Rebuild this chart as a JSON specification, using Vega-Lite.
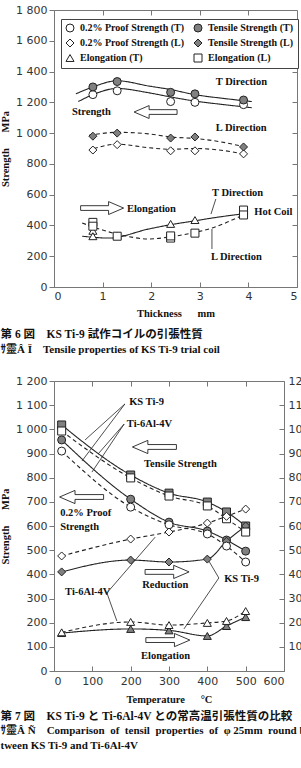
{
  "$schema": "https://vega.github.io/schema/vega-lite/v6.json",
  "padding": {"left": 0, "top": 3, "right": 0, "bottom": 0},
  "background": "white",
  "spacing": 18,
  "config": {
    "view": {"stroke": "#777", "strokeWidth": 1},
    "axis": {"domainColor": "#777", "tickColor": "#777", "labelFont": "DejaVu Sans", "labelFontSize": 11, "labelColor": "#333", "titleFont": "Liberation Serif", "titleFontWeight": "bold", "titleFontSize": 10.5, "titleColor": "#111", "grid": false, "tickSize": 5}
  },
  "datasets": {
    "pts1": [
      {"x": 0.8, "y": 1250, "series": "0.2% Proof Strength (T)"},
      {"x": 1.3, "y": 1275, "series": "0.2% Proof Strength (T)"},
      {"x": 2.4, "y": 1205, "series": "0.2% Proof Strength (T)"},
      {"x": 2.9, "y": 1200, "series": "0.2% Proof Strength (T)"},
      {"x": 3.9, "y": 1185, "series": "0.2% Proof Strength (T)"},
      {"x": 0.8, "y": 1300, "series": "Tensile Strength (T)"},
      {"x": 1.3, "y": 1335, "series": "Tensile Strength (T)"},
      {"x": 2.4, "y": 1265, "series": "Tensile Strength (T)"},
      {"x": 2.9, "y": 1255, "series": "Tensile Strength (T)"},
      {"x": 3.9, "y": 1215, "series": "Tensile Strength (T)"},
      {"x": 0.8, "y": 890, "series": "0.2% Proof Strength (L)"},
      {"x": 1.3, "y": 925, "series": "0.2% Proof Strength (L)"},
      {"x": 2.4, "y": 885, "series": "0.2% Proof Strength (L)"},
      {"x": 2.9, "y": 885, "series": "0.2% Proof Strength (L)"},
      {"x": 3.9, "y": 865, "series": "0.2% Proof Strength (L)"},
      {"x": 0.8, "y": 980, "series": "Tensile Strength (L)"},
      {"x": 1.3, "y": 1000, "series": "Tensile Strength (L)"},
      {"x": 2.4, "y": 968, "series": "Tensile Strength (L)"},
      {"x": 2.9, "y": 975, "series": "Tensile Strength (L)"},
      {"x": 3.9, "y": 910, "series": "Tensile Strength (L)"},
      {"x": 0.8, "y": 365, "series": "Elongation (T)"},
      {"x": 0.8, "y": 330, "series": "Elongation (T)"},
      {"x": 1.3, "y": 335, "series": "Elongation (T)"},
      {"x": 2.4, "y": 410, "series": "Elongation (T)"},
      {"x": 2.9, "y": 435, "series": "Elongation (T)"},
      {"x": 3.9, "y": 490, "series": "Elongation (T)"},
      {"x": 0.8, "y": 420, "series": "Elongation (L)"},
      {"x": 0.8, "y": 395, "series": "Elongation (L)"},
      {"x": 1.3, "y": 330, "series": "Elongation (L)"},
      {"x": 2.4, "y": 318, "series": "Elongation (L)"},
      {"x": 2.4, "y": 332, "series": "Elongation (L)"},
      {"x": 2.9, "y": 350, "series": "Elongation (L)"},
      {"x": 3.9, "y": 500, "series": "Elongation (L)"},
      {"x": 3.9, "y": 468, "series": "Elongation (L)"}
    ],
    "cur1": [
      {"x": 0.45, "y": 1255, "curve": "TS T", "dir": "T"},
      {"x": 0.8, "y": 1300, "curve": "TS T", "dir": "T"},
      {"x": 1.3, "y": 1340, "curve": "TS T", "dir": "T"},
      {"x": 1.95, "y": 1306, "curve": "TS T", "dir": "T"},
      {"x": 2.4, "y": 1283, "curve": "TS T", "dir": "T"},
      {"x": 2.9, "y": 1250, "curve": "TS T", "dir": "T"},
      {"x": 3.5, "y": 1225, "curve": "TS T", "dir": "T"},
      {"x": 4.07, "y": 1205, "curve": "TS T", "dir": "T"},
      {"x": 0.5, "y": 1205, "curve": "PS T", "dir": "T"},
      {"x": 0.8, "y": 1250, "curve": "PS T", "dir": "T"},
      {"x": 1.3, "y": 1290, "curve": "PS T", "dir": "T"},
      {"x": 1.95, "y": 1262, "curve": "PS T", "dir": "T"},
      {"x": 2.4, "y": 1235, "curve": "PS T", "dir": "T"},
      {"x": 2.9, "y": 1208, "curve": "PS T", "dir": "T"},
      {"x": 3.5, "y": 1185, "curve": "PS T", "dir": "T"},
      {"x": 4.07, "y": 1165, "curve": "PS T", "dir": "T"},
      {"x": 0.72, "y": 985, "curve": "TS L", "dir": "L"},
      {"x": 1.3, "y": 1005, "curve": "TS L", "dir": "L"},
      {"x": 1.95, "y": 995, "curve": "TS L", "dir": "L"},
      {"x": 2.4, "y": 975, "curve": "TS L", "dir": "L"},
      {"x": 2.9, "y": 965, "curve": "TS L", "dir": "L"},
      {"x": 3.4, "y": 945, "curve": "TS L", "dir": "L"},
      {"x": 3.9, "y": 912, "curve": "TS L", "dir": "L"},
      {"x": 0.82, "y": 900, "curve": "PS L", "dir": "L"},
      {"x": 1.3, "y": 928, "curve": "PS L", "dir": "L"},
      {"x": 1.95, "y": 905, "curve": "PS L", "dir": "L"},
      {"x": 2.4, "y": 895, "curve": "PS L", "dir": "L"},
      {"x": 2.9, "y": 900, "curve": "PS L", "dir": "L"},
      {"x": 3.4, "y": 890, "curve": "PS L", "dir": "L"},
      {"x": 3.9, "y": 865, "curve": "PS L", "dir": "L"},
      {"x": 0.58, "y": 330, "curve": "EL T", "dir": "T"},
      {"x": 1.13, "y": 318, "curve": "EL T", "dir": "T"},
      {"x": 1.95, "y": 377, "curve": "EL T", "dir": "T"},
      {"x": 2.4, "y": 405, "curve": "EL T", "dir": "T"},
      {"x": 2.9, "y": 430, "curve": "EL T", "dir": "T"},
      {"x": 3.25, "y": 448, "curve": "EL T", "dir": "T"},
      {"x": 3.95, "y": 478, "curve": "EL T", "dir": "T"},
      {"x": 0.58, "y": 416, "curve": "EL L", "dir": "L"},
      {"x": 1.0, "y": 370, "curve": "EL L", "dir": "L"},
      {"x": 1.48, "y": 331, "curve": "EL L", "dir": "L"},
      {"x": 1.95, "y": 312, "curve": "EL L", "dir": "L"},
      {"x": 2.37, "y": 325, "curve": "EL L", "dir": "L"},
      {"x": 2.9, "y": 355, "curve": "EL L", "dir": "L"},
      {"x": 3.25, "y": 383, "curve": "EL L", "dir": "L"},
      {"x": 3.95, "y": 478, "curve": "EL L", "dir": "L"}
    ],
    "txt1": [
      {"x": 3.33, "y": 1332, "label": "T Direction"},
      {"x": 0.37, "y": 1137, "label": "Strength"},
      {"x": 3.33, "y": 1033, "label": "L Direction"},
      {"x": 1.5, "y": 507, "label": "Elongation"},
      {"x": 3.25, "y": 611, "label": "T Direction"},
      {"x": 3.23, "y": 195, "label": "L Direction"},
      {"x": 4.12, "y": 487, "label": "Hot Coil"}
    ],
    "arr1": [
      {"x": 2.09, "y": 1137, "dir": "left"},
      {"x": 0.99, "y": 513, "dir": "right"}
    ],
    "rul1": [
      {"x": 3.33, "y": 572, "x2": 3.23, "y2": 474},
      {"x": 3.25, "y": 247, "x2": 3.25, "y2": 377}
    ],
    "pts2": [
      {"t": 20, "v": 1018, "prop": "tensile", "alloy": "KS Ti-9"},
      {"t": 200, "v": 811, "prop": "tensile", "alloy": "KS Ti-9"},
      {"t": 300, "v": 736, "prop": "tensile", "alloy": "KS Ti-9"},
      {"t": 400, "v": 699, "prop": "tensile", "alloy": "KS Ti-9"},
      {"t": 450, "v": 658, "prop": "tensile", "alloy": "KS Ti-9"},
      {"t": 500, "v": 600, "prop": "tensile", "alloy": "KS Ti-9"},
      {"t": 20, "v": 956, "prop": "proof", "alloy": "KS Ti-9"},
      {"t": 200, "v": 711, "prop": "proof", "alloy": "KS Ti-9"},
      {"t": 300, "v": 616, "prop": "proof", "alloy": "KS Ti-9"},
      {"t": 400, "v": 579, "prop": "proof", "alloy": "KS Ti-9"},
      {"t": 450, "v": 542, "prop": "proof", "alloy": "KS Ti-9"},
      {"t": 500, "v": 496, "prop": "proof", "alloy": "KS Ti-9"},
      {"t": 20, "v": 410, "prop": "reduction", "alloy": "KS Ti-9"},
      {"t": 200, "v": 459, "prop": "reduction", "alloy": "KS Ti-9"},
      {"t": 300, "v": 451, "prop": "reduction", "alloy": "KS Ti-9"},
      {"t": 400, "v": 463, "prop": "reduction", "alloy": "KS Ti-9"},
      {"t": 450, "v": 537, "prop": "reduction", "alloy": "KS Ti-9"},
      {"t": 500, "v": 600, "prop": "reduction", "alloy": "KS Ti-9"},
      {"t": 20, "v": 157, "prop": "elong", "alloy": "KS Ti-9"},
      {"t": 200, "v": 174, "prop": "elong", "alloy": "KS Ti-9"},
      {"t": 300, "v": 168, "prop": "elong", "alloy": "KS Ti-9"},
      {"t": 400, "v": 145, "prop": "elong", "alloy": "KS Ti-9"},
      {"t": 450, "v": 186, "prop": "elong", "alloy": "KS Ti-9"},
      {"t": 500, "v": 223, "prop": "elong", "alloy": "KS Ti-9"},
      {"t": 20, "v": 993, "prop": "tensile", "alloy": "Ti-6Al-4V"},
      {"t": 200, "v": 799, "prop": "tensile", "alloy": "Ti-6Al-4V"},
      {"t": 300, "v": 724, "prop": "tensile", "alloy": "Ti-6Al-4V"},
      {"t": 400, "v": 683, "prop": "tensile", "alloy": "Ti-6Al-4V"},
      {"t": 450, "v": 630, "prop": "tensile", "alloy": "Ti-6Al-4V"},
      {"t": 500, "v": 575, "prop": "tensile", "alloy": "Ti-6Al-4V"},
      {"t": 20, "v": 910, "prop": "proof", "alloy": "Ti-6Al-4V"},
      {"t": 200, "v": 678, "prop": "proof", "alloy": "Ti-6Al-4V"},
      {"t": 300, "v": 605, "prop": "proof", "alloy": "Ti-6Al-4V"},
      {"t": 400, "v": 567, "prop": "proof", "alloy": "Ti-6Al-4V"},
      {"t": 450, "v": 517, "prop": "proof", "alloy": "Ti-6Al-4V"},
      {"t": 500, "v": 451, "prop": "proof", "alloy": "Ti-6Al-4V"},
      {"t": 20, "v": 476, "prop": "reduction", "alloy": "Ti-6Al-4V"},
      {"t": 200, "v": 546, "prop": "reduction", "alloy": "Ti-6Al-4V"},
      {"t": 300, "v": 575, "prop": "reduction", "alloy": "Ti-6Al-4V"},
      {"t": 400, "v": 612, "prop": "reduction", "alloy": "Ti-6Al-4V"},
      {"t": 450, "v": 640, "prop": "reduction", "alloy": "Ti-6Al-4V"},
      {"t": 500, "v": 670, "prop": "reduction", "alloy": "Ti-6Al-4V"},
      {"t": 20, "v": 160, "prop": "elong", "alloy": "Ti-6Al-4V"},
      {"t": 200, "v": 203, "prop": "elong", "alloy": "Ti-6Al-4V"},
      {"t": 300, "v": 190, "prop": "elong", "alloy": "Ti-6Al-4V"},
      {"t": 400, "v": 199, "prop": "elong", "alloy": "Ti-6Al-4V"},
      {"t": 450, "v": 207, "prop": "elong", "alloy": "Ti-6Al-4V"},
      {"t": 500, "v": 248, "prop": "elong", "alloy": "Ti-6Al-4V"}
    ],
    "txt2": [
      {"t": 196, "v": 1113, "label": "KS Ti-9"},
      {"t": 190, "v": 1022, "label": "Ti-6Al-4V"},
      {"t": 235, "v": 856, "label": "Tensile Strength"},
      {"t": 16, "v": 654, "label": "0.2% Proof"},
      {"t": 16, "v": 596, "label": "Strength"},
      {"t": 230, "v": 356, "label": "Reduction"},
      {"t": 444, "v": 381, "label": "KS Ti-9"},
      {"t": 29, "v": 327, "label": "Ti-6Al-4V"},
      {"t": 227, "v": 62, "label": "Elongation"}
    ],
    "arr2": [
      {"t": 262, "v": 927, "dir": "left"},
      {"t": 72, "v": 720, "dir": "left"},
      {"t": 295, "v": 410, "dir": "right"},
      {"t": 297, "v": 128, "dir": "right"}
    ],
    "rul2": [
      {"t": 185, "v": 1105, "t2": 81, "v2": 956},
      {"t": 185, "v": 1105, "t2": 73, "v2": 869},
      {"t": 183, "v": 1022, "t2": 115, "v2": 898},
      {"t": 183, "v": 1022, "t2": 99, "v2": 823},
      {"t": 138, "v": 323, "t2": 264, "v2": 554},
      {"t": 138, "v": 323, "t2": 164, "v2": 207},
      {"t": 430, "v": 385, "t2": 404, "v2": 455},
      {"t": 430, "v": 385, "t2": 339, "v2": 174}
    ]
  },
  "resolve": {"scale": {"shape": "independent", "fill": "independent", "stroke": "independent", "strokeDash": "independent"}},
  "vconcat": [
    {
      "width": 243,
      "height": 277,
      "title": {
        "text": "第 6 図\u00a0\u00a0\u00a0\u00a0KS Ti-9 試作コイルの引張性質",
        "subtitle": "ｻ靈Â Ï\u00a0\u00a0\u00a0\u00a0Tensile properties of KS Ti-9 trial coil",
        "orient": "bottom", "anchor": "start", "frame": "bounds", "offset": 10,
        "font": "Liberation Serif, Noto Sans CJK JP", "fontSize": 11.5, "fontWeight": "bold", "color": "#111",
        "subtitleFont": "Liberation Serif, Noto Sans CJK JP", "subtitleFontSize": 11, "subtitleFontWeight": "bold", "subtitleColor": "#111", "subtitlePadding": 4
      },
      "resolve": {"axis": {"x": "independent", "y": "independent"}},
      "layer": [
        {
          "data": {"name": "cur1"},
          "mark": {"type": "line", "interpolate": "monotone", "color": "#222", "strokeWidth": 1.1},
          "encoding": {
            "x": {"field": "x", "type": "quantitative", "scale": {"domain": [0, 5], "nice": false},
              "axis": {"orient": "bottom", "values": [0, 1, 2, 3, 4, 5], "tickSize": -5, "labelPadding": 8, "labelAngle": 0, "title": "Thickness\u00a0\u00a0\u00a0\u00a0\u00a0\u00a0mm", "titlePadding": 7}},
            "y": {"field": "y", "type": "quantitative", "scale": {"domain": [0, 1800], "nice": false},
              "axis": {"orient": "left", "values": [0, 200, 400, 600, 800, 1000, 1200, 1400, 1600, 1800], "labelPadding": 2, "labelExpr": "datum.value >= 1000 ? floor(datum.value / 1000) + ' ' + format(datum.value % 1000, '03d') : '' + datum.value", "title": "Strength\u00a0\u00a0\u00a0\u00a0\u00a0\u00a0MPa", "titlePadding": 5}},
            "detail": {"field": "curve"},
            "strokeDash": {"field": "dir", "type": "nominal", "scale": {"domain": ["T", "L"], "range": [[1, 0], [4, 3]]}, "legend": null}
          }
        },
        {
          "data": {"name": "pts1"},
          "mark": {"type": "point", "filled": true, "strokeWidth": 1, "size": 64, "opacity": 1},
          "encoding": {
            "x": {"field": "x", "type": "quantitative", "axis": null},
            "y": {"field": "y", "type": "quantitative", "axis": null},
            "shape": {"field": "series", "type": "nominal",
              "scale": {"domain": ["0.2% Proof Strength (T)", "Tensile Strength (T)", "0.2% Proof Strength (L)", "Tensile Strength (L)", "Elongation (T)", "Elongation (L)"], "range": ["circle", "circle", "diamond", "diamond", "triangle-up", "square"]},
              "legend": {"orient": "none", "legendX": 7, "legendY": 9, "columns": 2, "direction": "horizontal", "title": null, "strokeColor": "#444", "fillColor": "white", "padding": 4, "labelFont": "Liberation Serif", "labelFontWeight": "bold", "labelFontSize": 10, "labelColor": "#111", "symbolSize": 64, "symbolStrokeWidth": 1, "rowPadding": 3, "columnPadding": 7, "labelOffset": 5, "labelLimit": 200}},
            "fill": {"field": "series", "type": "nominal",
              "scale": {"domain": ["0.2% Proof Strength (T)", "Tensile Strength (T)", "0.2% Proof Strength (L)", "Tensile Strength (L)", "Elongation (T)", "Elongation (L)"], "range": ["white", "#808080", "white", "#808080", "white", "white"]}},
            "stroke": {"field": "series", "type": "nominal",
              "scale": {"domain": ["0.2% Proof Strength (T)", "Tensile Strength (T)", "0.2% Proof Strength (L)", "Tensile Strength (L)", "Elongation (T)", "Elongation (L)"], "range": ["#222", "#222", "#222", "#222", "#222", "#222"]}}
          }
        },
        {
          "data": {"name": "txt1"},
          "mark": {"type": "text", "font": "Liberation Serif", "fontWeight": "bold", "fontSize": 10.5, "align": "left", "baseline": "middle", "color": "#111"},
          "encoding": {
            "x": {"field": "x", "type": "quantitative", "axis": null},
            "y": {"field": "y", "type": "quantitative", "axis": null},
            "text": {"field": "label"}
          }
        },
        {
          "data": {"name": "arr1"},
          "transform": [{"filter": "datum.dir == 'left'"}],
          "mark": {"type": "point", "shape": "M1,-0.11L-0.3,-0.11L-0.3,-0.3L-1,0L-0.3,0.3L-0.3,0.11L1,0.11Z", "size": 1849, "filled": true, "fill": "white", "stroke": "#222", "strokeWidth": 0.9, "opacity": 1},
          "encoding": {
            "x": {"field": "x", "type": "quantitative", "axis": null},
            "y": {"field": "y", "type": "quantitative", "axis": null}
          }
        },
        {
          "data": {"name": "arr1"},
          "transform": [{"filter": "datum.dir == 'right'"}],
          "mark": {"type": "point", "shape": "M-1,-0.11L0.3,-0.11L0.3,-0.3L1,0L0.3,0.3L0.3,0.11L-1,0.11Z", "size": 1849, "filled": true, "fill": "white", "stroke": "#222", "strokeWidth": 0.9, "opacity": 1},
          "encoding": {
            "x": {"field": "x", "type": "quantitative", "axis": null},
            "y": {"field": "y", "type": "quantitative", "axis": null}
          }
        },
        {
          "data": {"name": "rul1"},
          "mark": {"type": "rule", "color": "#222", "strokeWidth": 0.8},
          "encoding": {
            "x": {"field": "x", "type": "quantitative", "axis": null},
            "y": {"field": "y", "type": "quantitative", "axis": null},
            "x2": {"field": "x2"},
            "y2": {"field": "y2"}
          }
        },
        {
          "data": {"name": "pts1"},
          "mark": {"type": "point", "opacity": 0},
          "encoding": {
            "x": {"field": "x", "type": "quantitative", "axis": {"orient": "top", "values": [1, 2, 3, 4], "tickSize": -5, "labels": false, "domain": false, "title": null}},
            "y": {"field": "y", "type": "quantitative", "axis": {"orient": "right", "values": [200, 400, 600, 800, 1000, 1200, 1400, 1600], "tickSize": -5, "labels": false, "domain": false, "title": null}}
          }
        }
      ]
    },
    {
      "width": 230,
      "height": 290,
      "title": {
        "text": "第 7 図\u00a0\u00a0\u00a0\u00a0KS Ti-9 と Ti-6Al-4V との常高温引張性質の比較",
        "subtitle": ["ｻ靈Â Ñ\u00a0\u00a0\u00a0\u00a0Comparison\u00a0 of\u00a0 tensil\u00a0 properties\u00a0 of\u00a0 φ 25mm\u00a0 round bar be-", "\u00a0\u00a0\u00a0\u00a0\u00a0\u00a0\u00a0\u00a0\u00a0\u00a0\u00a0\u00a0\u00a0\u00a0\u00a0\u00a0tween KS Ti-9 and Ti-6Al-4V"],
        "orient": "bottom", "anchor": "start", "frame": "bounds", "offset": 6,
        "font": "Liberation Serif, Noto Sans CJK JP", "fontSize": 11.5, "fontWeight": "bold", "color": "#111",
        "subtitleFont": "Liberation Serif, Noto Sans CJK JP", "subtitleFontSize": 11, "subtitleFontWeight": "bold", "subtitleColor": "#111", "subtitlePadding": 3, "subtitleLineHeight": 15
      },
      "resolve": {"axis": {"x": "independent", "y": "independent"}},
      "layer": [
        {
          "data": {"name": "pts2"},
          "mark": {"type": "line", "interpolate": "monotone", "color": "#222", "strokeWidth": 1.1},
          "encoding": {
            "x": {"field": "t", "type": "quantitative", "scale": {"domain": [0, 600], "nice": false},
              "axis": {"orient": "bottom", "values": [0, 100, 200, 300, 400, 500, 600], "tickSize": -5, "labelPadding": 9, "labelAngle": 0, "title": "Temperature\u00a0\u00a0\u00a0\u00a0\u00a0\u00a0°C", "titlePadding": 8}},
            "y": {"field": "v", "type": "quantitative", "scale": {"domain": [0, 1200], "nice": false},
              "axis": {"orient": "left", "values": [0, 100, 200, 300, 400, 500, 600, 700, 800, 900, 1000, 1100, 1200], "labelPadding": 2, "labelExpr": "datum.value >= 1000 ? floor(datum.value / 1000) + ' ' + format(datum.value % 1000, '03d') : '' + datum.value", "title": "Strength\u00a0\u00a0\u00a0\u00a0\u00a0\u00a0MPa", "titlePadding": 5}},
            "detail": {"field": "prop"},
            "strokeDash": {"field": "alloy", "type": "nominal", "scale": {"domain": ["KS Ti-9", "Ti-6Al-4V"], "range": [[1, 0], [4, 3]]}, "legend": null}
          }
        },
        {
          "data": {"name": "pts2"},
          "mark": {"type": "point", "filled": true, "stroke": "#222", "strokeWidth": 1, "size": 64, "opacity": 1},
          "encoding": {
            "x": {"field": "t", "type": "quantitative", "axis": null},
            "y": {"field": "v", "type": "quantitative", "axis": null},
            "shape": {"field": "prop", "type": "nominal", "scale": {"domain": ["tensile", "proof", "reduction", "elong"], "range": ["square", "circle", "diamond", "triangle-up"]}, "legend": null},
            "fill": {"field": "alloy", "type": "nominal", "scale": {"domain": ["KS Ti-9", "Ti-6Al-4V"], "range": ["#808080", "white"]}, "legend": null}
          }
        },
        {
          "data": {"name": "txt2"},
          "mark": {"type": "text", "font": "Liberation Serif", "fontWeight": "bold", "fontSize": 10.5, "align": "left", "baseline": "middle", "color": "#111"},
          "encoding": {
            "x": {"field": "t", "type": "quantitative", "axis": null},
            "y": {"field": "v", "type": "quantitative", "axis": null},
            "text": {"field": "label"}
          }
        },
        {
          "data": {"name": "arr2"},
          "transform": [{"filter": "datum.dir == 'left'"}],
          "mark": {"type": "point", "shape": "M1,-0.11L-0.3,-0.11L-0.3,-0.3L-1,0L-0.3,0.3L-0.3,0.11L1,0.11Z", "size": 1936, "filled": true, "fill": "white", "stroke": "#222", "strokeWidth": 0.9, "opacity": 1},
          "encoding": {
            "x": {"field": "t", "type": "quantitative", "axis": null},
            "y": {"field": "v", "type": "quantitative", "axis": null}
          }
        },
        {
          "data": {"name": "arr2"},
          "transform": [{"filter": "datum.dir == 'right'"}],
          "mark": {"type": "point", "shape": "M-1,-0.11L0.3,-0.11L0.3,-0.3L1,0L0.3,0.3L0.3,0.11L-1,0.11Z", "size": 1936, "filled": true, "fill": "white", "stroke": "#222", "strokeWidth": 0.9, "opacity": 1},
          "encoding": {
            "x": {"field": "t", "type": "quantitative", "axis": null},
            "y": {"field": "v", "type": "quantitative", "axis": null}
          }
        },
        {
          "data": {"name": "rul2"},
          "mark": {"type": "rule", "color": "#222", "strokeWidth": 0.8},
          "encoding": {
            "x": {"field": "t", "type": "quantitative", "axis": null},
            "y": {"field": "v", "type": "quantitative", "axis": null},
            "x2": {"field": "t2"},
            "y2": {"field": "v2"}
          }
        },
        {
          "data": {"name": "pts2"},
          "mark": {"type": "point", "opacity": 0},
          "encoding": {
            "x": {"field": "t", "type": "quantitative", "axis": {"orient": "top", "values": [100, 200, 300, 400, 500], "tickSize": -5, "labels": false, "domain": false, "title": null}},
            "y": {"field": "v", "type": "quantitative", "axis": {"orient": "right", "values": [100, 200, 300, 400, 500, 600, 700, 800, 900, 1000, 1100, 1200], "tickSize": -5, "labelPadding": 9, "labelExpr": "'' + datum.value / 10", "domain": false, "title": null}}
          }
        }
      ]
    }
  ]
}
